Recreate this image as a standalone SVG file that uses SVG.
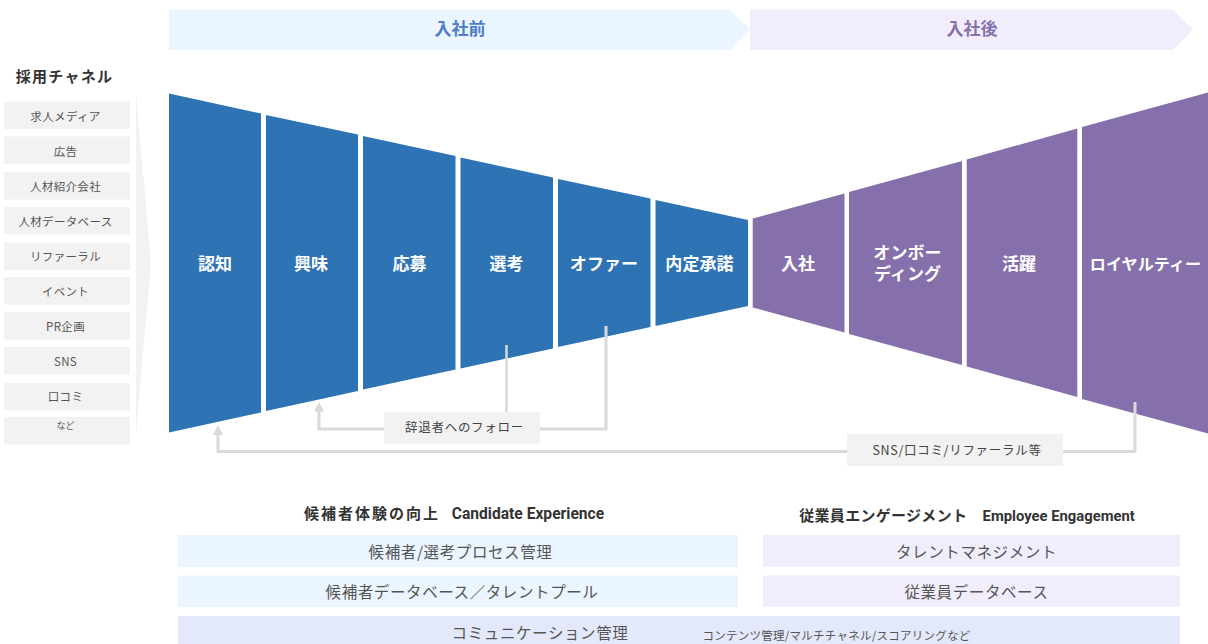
<svg xmlns="http://www.w3.org/2000/svg" width="1208" height="644" viewBox="0 0 1208 644">
<style>
text{font-family:"Noto Sans CJK JP","Noto Sans",sans-serif;text-anchor:middle}
.ch{fill:#f2f2f2}
.cht{font-size:11.5px;fill:#555;letter-spacing:.35px}
.blue{fill:#2e74b5}
.pur{fill:#8670ab}
.st{font-size:17px;font-weight:700;fill:#fff;letter-spacing:.1px}
.lb{fill:#ebf5ff}
.lp{fill:#f1edfd}
.bt{font-size:15.5px;fill:#555;letter-spacing:.6px}
.h{font-size:15px;font-weight:700;fill:#333}
.f{font-size:12.5px;fill:#444;letter-spacing:.7px}
.c{fill:none;stroke:#d9d9d9;stroke-width:3}
.a{fill:#d9d9d9}
</style>
<g id="header-before"><polygon class="lb" points="169,9.500 730,9.500 750,29.500 730,50 169,50"/><text x="460" y="35" font-size="17" font-weight="700" fill="#4d7cc9">入社前</text></g>
<g id="header-after"><polygon class="lp" points="750,9.500 1173,9.500 1192.500,29.500 1173,50 750,50"/><text x="972" y="35" font-size="17" font-weight="700" fill="#8670ab">入社後</text></g>
<g id="channels">
<text x="64.500" y="82" font-size="15" font-weight="700" fill="#333" letter-spacing="1.300">採用チャネル</text>
<polygon class="ch" points="136,93 151,263 136,435"/>
<rect class="ch" x="4" y="101.500" width="126" height="27.500"/><text class="cht" x="65.500" y="120.500">求人メディア</text>
<rect class="ch" x="4" y="136.500" width="126" height="27.500"/><text class="cht" x="65.500" y="155.500">広告</text>
<rect class="ch" x="4" y="172" width="126" height="27.500"/><text class="cht" x="65.500" y="190.500">人材紹介会社</text>
<rect class="ch" x="4" y="207" width="126" height="27.500"/><text class="cht" x="65.500" y="225.500">人材データベース</text>
<rect class="ch" x="4" y="242.500" width="126" height="27.500"/><text class="cht" x="65.500" y="260.500">リファーラル</text>
<rect class="ch" x="4" y="277" width="126" height="27.500"/><text class="cht" x="65.500" y="295.500">イベント</text>
<rect class="ch" x="4" y="312" width="126" height="27.500"/><text class="cht" x="65.500" y="330.500">PR企画</text>
<rect class="ch" x="4" y="347" width="126" height="27.500"/><text class="cht" x="65.500" y="366">SNS</text>
<rect class="ch" x="4" y="383" width="126" height="27.500"/><text class="cht" x="65.500" y="401">口コミ</text>
<rect class="ch" x="4" y="417" width="126" height="27.500"/><text x="65.500" y="429" font-size="9" fill="#555">など</text>
</g>
<g id="stage-1"><polygon class="blue" points="169,93.500 261,113.500 261,412.500 169,432.500"/><text class="st" x="215" y="270">認知</text></g>
<g id="stage-2"><polygon class="blue" points="266,115 358,134.500 358,391 266,411"/><text class="st" x="311" y="270">興味</text></g>
<g id="stage-3"><polygon class="blue" points="363,136 455.500,156 455.500,369.500 363,389.500"/><text class="st" x="409.500" y="270">応募</text></g>
<g id="stage-4"><polygon class="blue" points="460.500,157.500 553,177.500 553,348.500 460.500,368.500"/><text class="st" x="506.500" y="270">選考</text></g>
<g id="stage-5"><polygon class="blue" points="558,179 650.500,198.500 650.500,327 558,347"/><text class="st" x="604" y="270">オファー</text></g>
<g id="stage-6"><polygon class="blue" points="655.500,200 748,220 748,306 655.500,326"/><text class="st" x="699.500" y="270">内定承諾</text></g>
<g id="stage-7"><polygon class="pur" points="752.700,218.500 844.500,193.500 844.500,332.500 752.700,307.500"/><text class="st" x="798" y="270">入社</text></g>
<g id="stage-8"><polygon class="pur" points="849,192 962,161 962,365 849,334"/><text class="st" y="259"><tspan x="907.500">オンボー</tspan><tspan x="907.500" dy="21">ディング</tspan></text></g>
<g id="stage-9"><polygon class="pur" points="966.700,159.500 1077.300,128.500 1077.300,397 966.700,366.500"/><text class="st" x="1019" y="270">活躍</text></g>
<g id="stage-10"><polygon class="pur" points="1082,127 1208,92.500 1208,433.500 1082,399"/><text class="st" x="1145.500" y="269.500" style="font-size:16px">ロイヤルティー</text></g>
<g id="connectors">
<path class="c" d="M506.500 345V412" style="stroke-width:2.500"/>
<path class="c" d="M606 326V429H540"/>
<path class="c" d="M384 429H319V410"/>
<polygon class="a" points="319,402 324,411.500 314,411.500"/>
<path class="c" d="M1135 402V451.500H1063"/>
<path class="c" d="M847 451.500H218V433"/>
<polygon class="a" points="218,425 223,435 213,435"/>
</g>
<g id="followup"><rect class="ch" x="384" y="412" width="156" height="31.500"/><text class="f" x="464.500" y="432">辞退者へのフォロー</text></g>
<g id="referral"><rect class="ch" x="847" y="434" width="216" height="32"/><text class="f" x="957" y="455">SNS/口コミ/リファーラル等</text></g>
<g id="candidate">
<text class="h" x="454" y="518.500" letter-spacing="2">候補者体験の向上<tspan font-family="Roboto,'Liberation Sans',sans-serif" letter-spacing="0" font-size="15.600" dx="8"> Candidate Experience</tspan></text>
<rect class="lb" x="178" y="535" width="560" height="32"/><text class="bt" x="460.500" y="558">候補者/選考プロセス管理</text>
<rect class="lb" x="178" y="575.500" width="560" height="31.500"/><text class="bt" x="462" y="598">候補者データベース／タレントプール</text>
</g>
<g id="employee">
<text class="h" x="967" y="521" letter-spacing=".3">従業員エンゲージメント　<tspan font-family="Roboto,'Liberation Sans',sans-serif" font-size="14.800" letter-spacing="0">Employee Engagement</tspan></text>
<rect class="lp" x="763" y="535" width="417" height="32"/><text class="bt" x="976.500" y="558">タレントマネジメント</text>
<rect class="lp" x="763" y="575.500" width="417" height="31.500"/><text class="bt" x="976.500" y="598">従業員データベース</text>
</g>
<g id="communication">
<rect x="178" y="616" width="1002" height="28" fill="#e3e9fb"/>
<text class="bt" x="540" y="639">コミュニケーション管理</text>
<text x="836.500" y="640" font-size="11.500" fill="#555" letter-spacing=".25">コンテンツ管理/マルチチャネル/スコアリングなど</text>
</g>
</svg>
